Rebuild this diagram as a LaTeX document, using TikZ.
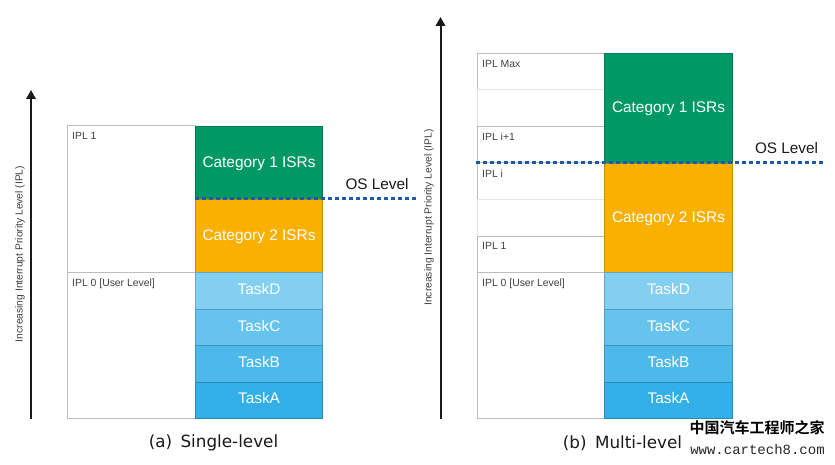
\documentclass[tikz,border=0pt]{standalone}
\usepackage{fontspec}
\setmainfont{Liberation Sans}
\newfontfamily\capfont{DejaVu Sans}
\newfontfamily\cjkfont{Noto Sans CJK SC}[BoldFont={Noto Sans CJK SC Bold}]
\newfontfamily\wmfont{Liberation Mono}
\usetikzlibrary{arrows.meta}
\definecolor{catone}{HTML}{009966}
\definecolor{cattwo}{HTML}{F9B000}
\definecolor{taskd}{HTML}{82CFF2}
\definecolor{taskc}{HTML}{65C3EE}
\definecolor{taskb}{HTML}{4CB9EA}
\definecolor{taska}{HTML}{31AFE6}
\definecolor{oslevel}{HTML}{1F5AA6}
\definecolor{cellline}{HTML}{BDBDBD}
\definecolor{axisline}{HTML}{1A1A1A}
\tikzset{
  x=1pt,y=-1pt,
  cell/.style={draw=cellline,line width=1pt,fill=white,inner sep=0pt,outer sep=0pt,minimum width=127.5pt},
  blankcell/.style={cell,draw=black!10},
  block/.style={draw=#1!80!black,fill=#1,line width=0.8pt,inner sep=0pt,outer sep=0pt,text=white,minimum width=127.5pt,text height=11pt,text depth=3.5pt,font=\fontsize{15.4}{18}\selectfont},
  catblock/.style={block=#1,text height=12pt,text depth=2.5pt},
  ipl/.style={inner sep=0pt,anchor=north west,text=black!75,font=\fontsize{10.4}{12}\selectfont},
  axis/.style={draw=axisline,line width=2pt,-{Triangle[length=9pt,width=9.5pt]}},
  axislabel/.style={rotate=90,text=black!75,inner sep=0pt,font=\fontsize{10.3}{12}\selectfont},
  oslabel/.style={inner sep=0pt,text=black!90,font=\fontsize{15.3}{18}\selectfont},
  osline/.style={draw=oslevel,line width=3pt,dash pattern=on 4pt off 3pt},
  capt/.style={inner sep=0pt,text=black!90,font=\capfont\fontsize{16.8}{20}\selectfont},
}
\begin{document}
\begin{tikzpicture}
\useasboundingbox (0,0) rectangle (835,465);
% (a) Single-level
\node[cell,minimum height=146.5pt] (aipla) at (131.25,199.25) {};
\node[cell,minimum height=145.5pt] (aiplz) at (131.25,345.25) {};
\node[ipl] at (72,132) {IPL 1};
\node[ipl] at (72,279) {IPL 0 [User Level]};
\node[catblock=catone,minimum height=73pt] (acat1) at (259,162.5) {Category 1 ISRs};
\node[catblock=cattwo,minimum height=73.5pt] (acat2) at (259,235.75) {Category 2 ISRs};
\node[block=taskd,minimum height=36.5pt] (atd) at (259,290.75) {TaskD};
\node[block=taskc,minimum height=36.5pt] (atc) at (259,327.25) {TaskC};
\node[block=taskb,minimum height=36.5pt] (atb) at (259,363.75) {TaskB};
\node[block=taska,minimum height=36pt] (ata) at (259,400) {TaskA};
\coordinate (aos1) at (195,199);
\coordinate (aos2) at (416,199);
\draw[osline] (aos1) -- (aos2);
\node[oslabel] (aos) at (377,184) {OS Level};
\coordinate (aax1) at (31,418.5);
\coordinate (aax2) at (31,90);
\draw[axis] (aax1) -- (aax2);
\node[axislabel] (aaxl) at (20,254) {Increasing Interrupt Priority Level (IPL)};
\node[capt] (acap) at (213.5,443) {(a)\enspace Single-level};
% (b) Multi-level
\node[cell,minimum height=36.5pt] (b1) at (540.75,71.75) {};
\node[blankcell,minimum height=36.5pt] (b2) at (540.75,108.25) {};
\node[cell,minimum height=36.5pt] (b3) at (540.75,144.75) {};
\node[cell,minimum height=36.5pt] (b4) at (540.75,181.25) {};
\node[blankcell,minimum height=36.5pt] (b5) at (540.75,217.75) {};
\node[cell,minimum height=36.5pt] (b6) at (540.75,254.25) {};
\node[cell,minimum height=145.5pt] (b7) at (540.75,345.25) {};
\node[ipl] at (482,60) {IPL Max};
\node[ipl] at (482,133) {IPL i+1};
\node[ipl] at (482,169.5) {IPL i};
\node[ipl] at (482,242) {IPL 1};
\node[ipl] at (482,279) {IPL 0 [User Level]};
\node[catblock=catone,minimum height=109.5pt] (bcat1) at (668.5,108.25) {Category 1 ISRs};
\node[catblock=cattwo,minimum height=109.5pt] (bcat2) at (668.5,217.75) {Category 2 ISRs};
\node[block=taskd,minimum height=36.5pt] (btd) at (668.5,290.75) {TaskD};
\node[block=taskc,minimum height=36.5pt] (btc) at (668.5,327.25) {TaskC};
\node[block=taskb,minimum height=36.5pt] (btb) at (668.5,363.75) {TaskB};
\node[block=taska,minimum height=36pt] (bta) at (668.5,400) {TaskA};
\coordinate (bos1) at (476,163);
\coordinate (bos2) at (824,163);
\draw[osline] (bos1) -- (bos2);
\node[oslabel] (bos) at (786.5,148) {OS Level};
\coordinate (bax1) at (440.5,418.5);
\coordinate (bax2) at (440.5,17);
\draw[axis] (bax1) -- (bax2);
\node[axislabel] (baxl) at (429,217.5) {Increasing Interrupt Priority Level (IPL)};
\node[capt] (bcap) at (622.5,443) {(b)\enspace Multi-level};
% Watermark
\node[inner sep=0pt,font=\cjkfont\bfseries\fontsize{15}{18}\selectfont] (wm1) at (757,428) {中国汽车工程师之家};
\node[inner sep=0pt,text=black!85,font=\wmfont\fontsize{14}{16}\selectfont] (wm2) at (757.5,449.5) {www.cartech8.com};
\end{tikzpicture}
\end{document}
